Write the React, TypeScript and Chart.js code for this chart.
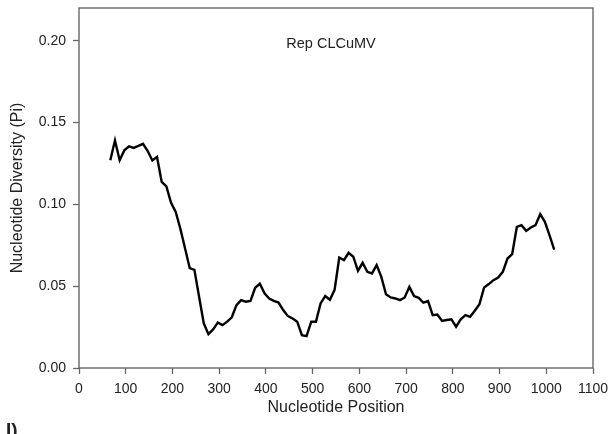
import React, { useEffect, useRef } from "react";
import { Chart, registerables } from "chart.js";

Chart.register(...registerables);

// Window positions (bp) of the sliding-window nucleotide diversity profile
const positions: number[] = [
  67, 77, 87, 97, 107, 117, 127, 137, 147, 157, 167, 177, 187, 197, 207, 217,
  227, 237, 247, 257, 267, 277, 287, 297, 307, 317, 327, 337, 347, 357, 367,
  377, 387, 397, 407, 417, 427, 437, 447, 457, 467, 477, 487, 497, 507, 517,
  527, 537, 547, 557, 567, 577, 587, 597, 607, 617, 627, 637, 647, 657, 667,
  677, 687, 697, 707, 717, 727, 737, 747, 757, 767, 777, 787, 797, 807, 817,
  827, 837, 847, 857, 867, 877, 887, 897, 907, 917, 927, 937, 947, 957, 967,
  977, 987, 997, 1007, 1017,
];

// Nucleotide diversity (Pi) per window
const piValues: number[] = [
  0.127, 0.139, 0.127, 0.133, 0.1355, 0.1345, 0.1357, 0.137, 0.1326, 0.1268,
  0.129, 0.1137, 0.111, 0.101, 0.0954, 0.085, 0.073, 0.061, 0.06, 0.0435,
  0.0273, 0.0207, 0.0236, 0.0277, 0.0262, 0.0283, 0.031, 0.0384, 0.0415,
  0.0405, 0.041, 0.049, 0.0515, 0.0456, 0.0425, 0.041, 0.04, 0.0354, 0.0317,
  0.0303, 0.0283, 0.0201, 0.0195, 0.0283, 0.0283, 0.0395, 0.044, 0.0417,
  0.0478, 0.0675, 0.0659, 0.0704, 0.068, 0.0594, 0.0643, 0.0588, 0.0578,
  0.0629, 0.0557, 0.045, 0.0431, 0.0425, 0.0415, 0.0431, 0.0496, 0.044,
  0.0429, 0.0399, 0.0409, 0.0323, 0.0327, 0.0287, 0.0293, 0.0297, 0.0252,
  0.0297, 0.0323, 0.0313, 0.035, 0.039, 0.0492, 0.0513, 0.0537, 0.0553,
  0.0588, 0.0669, 0.0696, 0.0862, 0.0873, 0.0838, 0.0859, 0.0873, 0.094,
  0.0893, 0.081, 0.0724,
];

const xTicks: number[] = [0, 100, 200, 300, 400, 500, 600, 700, 800, 900, 1000, 1100];
const yTicks: number[] = [0, 0.05, 0.1, 0.15, 0.2];

const chartLabel = "Rep CLCuMV";
const panelLabel = "I)";
const xTitle = "Nucleotide Position";
const yTitle = "Nucleotide Diversity (Pi)";

const FONT = "'Liberation Sans', Arial, sans-serif";
const AXIS_GRAY = "#666666";
const TEXT = "#222222";

const framePlugin = {
  id: "frameAndLabels",
  afterDraw(chart: any) {
    const { ctx, chartArea } = chart;
    ctx.save();
    ctx.strokeStyle = AXIS_GRAY;
    ctx.lineWidth = 1.4;
    ctx.strokeRect(chartArea.left, chartArea.top, chartArea.right - chartArea.left, chartArea.bottom - chartArea.top);

    ctx.fillStyle = TEXT;
    ctx.font = `14.5px ${FONT}`;
    ctx.textAlign = "center";
    ctx.textBaseline = "middle";
    ctx.fillText(chartLabel, 331, 44);

    ctx.font = `bold 19px ${FONT}`;
    ctx.textAlign = "left";
    ctx.textBaseline = "top";
    ctx.fillText(panelLabel, 6, 421);
    ctx.restore();
  },
};

export default function App() {
  const canvasRef = useRef<HTMLCanvasElement | null>(null);

  useEffect(() => {
    if (!canvasRef.current) return;
    const data = positions.map((x, i) => ({ x, y: piValues[i] }));
    const chart = new Chart(canvasRef.current, {
      type: "line",
      data: {
        datasets: [
          {
            data,
            borderColor: "#000000",
            borderWidth: 2.4,
            pointRadius: 0,
            tension: 0,
            fill: false,
          },
        ],
      },
      options: {
        animation: false,
        responsive: false,
        maintainAspectRatio: false,
        layout: { padding: { top: 8, right: 17, left: 0, bottom: 0 } },
        plugins: { legend: { display: false }, tooltip: { enabled: false } },
        scales: {
          x: {
            type: "linear",
            min: 0,
            max: 1100,
            afterBuildTicks: (scale: any) => {
              scale.ticks = xTicks.map((v) => ({ value: v }));
            },
            afterFit: (scale: any) => {
              scale.height = 66;
              scale.paddingLeft = 0;
              scale.paddingRight = 0;
            },
            border: { display: false },
            grid: {
              display: true,
              drawOnChartArea: false,
              drawTicks: true,
              tickLength: 6,
              tickColor: AXIS_GRAY,
              tickWidth: 1.3,
            },
            ticks: {
              color: TEXT,
              font: { family: FONT, size: 14 },
              padding: 7,
              maxRotation: 0,
              autoSkip: false,
              callback: (v: any) => String(v),
            },
            title: {
              display: true,
              text: xTitle,
              color: TEXT,
              font: { family: FONT, size: 16 },
              padding: { top: 0, bottom: 17 },
            },
          },
          y: {
            type: "linear",
            min: 0,
            max: 0.22,
            afterBuildTicks: (scale: any) => {
              scale.ticks = yTicks.map((v) => ({ value: v }));
            },
            afterFit: (scale: any) => {
              scale.width = 79;
              scale.paddingTop = 0;
              scale.paddingBottom = 0;
            },
            border: { display: false },
            grid: {
              display: true,
              drawOnChartArea: false,
              drawTicks: true,
              tickLength: 6,
              tickColor: AXIS_GRAY,
              tickWidth: 1.3,
            },
            ticks: {
              color: TEXT,
              font: { family: FONT, size: 14 },
              padding: 7,
              autoSkip: false,
              callback: (v: any) => Number(v).toFixed(2),
            },
            title: {
              display: true,
              text: yTitle,
              color: TEXT,
              font: { family: FONT, size: 16 },
              padding: { top: 8, bottom: 0 },
            },
          },
        },
      },
      plugins: [framePlugin],
    });
    return () => chart.destroy();
  }, []);

  return (
    <div style={{ position: "fixed", left: 0, top: 0, width: 610, height: 434, background: "#ffffff" }}>
      <canvas ref={canvasRef} width={610} height={434} style={{ width: 610, height: 434 }} />
    </div>
  );
}
